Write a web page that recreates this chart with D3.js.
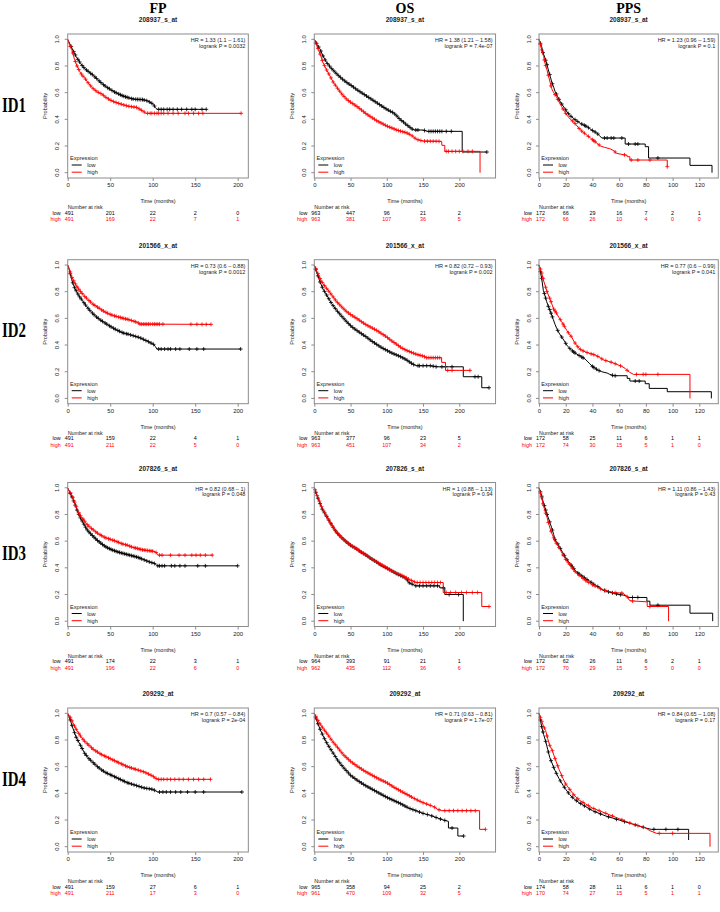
<!DOCTYPE html>
<html>
<head>
<meta charset="utf-8">
<script src="https://cdn.jsdelivr.net/npm/d3@7"></script>
<style>
body { margin: 0; background: #fff; }
svg { display: block; }
</style>
</head>
<body>
<div id="chart"></div>
<script>
// ---- labels ----
var colTitles = ["FP", "OS", "PPS"];
var rowLabels = ["ID1", "ID2", "ID3", "ID4"];
var probeIds = ["208937_s_at", "201566_x_at", "207826_s_at", "209292_at"];
var xTicksFP = [0, 50, 100, 150, 200];
var xTicksOS = [0, 50, 100, 150, 200];
var xTicksPPS = [0, 20, 40, 60, 80, 100, 120];
var yTicks = [0, 0.2, 0.4, 0.6, 0.8, 1.0];

var hrFP = ["HR = 1.33 (1.1 \u2013 1.61)", "HR = 0.73 (0.6 \u2013 0.88)", "HR = 0.82 (0.68 \u2013 1)", "HR = 0.7 (0.57 \u2013 0.84)"];
var pFP = ["logrank P = 0.0032", "logrank P = 0.0012", "logrank P = 0.048", "logrank P = 2e-04"];
var hrOS = ["HR = 1.38 (1.21 \u2013 1.58)", "HR = 0.82 (0.72 \u2013 0.93)", "HR = 1 (0.88 \u2013 1.13)", "HR = 0.71 (0.63 \u2013 0.81)"];
var pOS = ["logrank P = 7.4e-07", "logrank P = 0.002", "logrank P = 0.94", "logrank P = 1.7e-07"];
var hrPPS = ["HR = 1.23 (0.96 \u2013 1.59)", "HR = 0.77 (0.6 \u2013 0.99)", "HR = 1.11 (0.86 \u2013 1.43)", "HR = 0.84 (0.65 \u2013 1.08)"];
var pPPS = ["logrank P = 0.1", "logrank P = 0.041", "logrank P = 0.43", "logrank P = 0.17"];

// ---- numbers at risk ----
var riskFP1 = [[491, 201, 22, 2, 0], [491, 169, 22, 7, 1]];
var riskOS1 = [[963, 447, 96, 21, 2], [963, 381, 107, 36, 5]];
var riskPPS1 = [[172, 66, 29, 16, 7, 2, 1], [172, 66, 26, 10, 4, 0, 0]];
var riskFP2 = [[491, 159, 22, 4, 1], [491, 211, 22, 5, 0]];
var riskOS2 = [[963, 377, 96, 23, 5], [963, 451, 107, 34, 2]];
var riskPPS2 = [[172, 58, 25, 11, 6, 1, 1], [172, 74, 30, 15, 5, 1, 0]];
var riskFP3 = [[491, 174, 22, 3, 1], [491, 196, 22, 6, 0]];
var riskOS3 = [[964, 393, 91, 21, 1], [962, 435, 112, 36, 6]];
var riskPPS3 = [[172, 62, 26, 11, 6, 2, 1], [172, 70, 29, 15, 5, 0, 0]];
var riskFP4 = [[491, 159, 27, 6, 1], [491, 211, 17, 3, 0]];
var riskOS4 = [[965, 358, 94, 25, 2], [961, 470, 109, 32, 5]];
var riskPPS4 = [[174, 58, 28, 11, 6, 1, 0], [170, 74, 27, 15, 5, 1, 1]];

// ---- survival curves [months, probability] ----
var fp1Low = [[0,1],[3,0.96],[6,0.92],[10,0.87],[15,0.82],[20,0.78],[25,0.755],[30,0.73],[35,0.70],[40,0.67],[45,0.645],[50,0.625],[55,0.605],[60,0.59],[65,0.575],[70,0.565],[75,0.555],[80,0.55],[88,0.548],[93,0.54],[98,0.525],[101,0.51],[103,0.49],[105,0.475],[163,0.475]];
var fp1High = [[0,1],[2,0.96],[5,0.92],[8,0.85],[11,0.80],[14,0.76],[17,0.73],[20,0.71],[25,0.665],[30,0.63],[35,0.605],[40,0.59],[45,0.565],[50,0.545],[55,0.53],[60,0.52],[65,0.51],[70,0.50],[75,0.495],[81,0.49],[85,0.475],[89,0.46],[92,0.445],[204,0.445]];
var fp1LowCens = [4,7,9,12,14,17,19,22,24,27,29,32,34,37,39,42,44,47,49,52,55,57,60,62,64,66,68,70,72,75,77,80,82,84,86,88,90,93,96,99,102,107,110,113,117,120,124,129,134,140,146,150,158,163];
var fp1HighCens = [3,6,9,11,13,16,18,21,24,27,30,33,36,39,42,45,48,51,54,57,60,63,66,69,72,75,78,81,84,87,90,94,97,99,102,105,107,110,113,118,124,130,138,142,148,154,159,204];

var os1Low = [[0,1],[4,0.96],[8,0.925],[12,0.875],[17,0.825],[24,0.78],[31,0.74],[38,0.705],[45,0.675],[52,0.65],[58,0.625],[65,0.60],[72,0.575],[79,0.55],[86,0.525],[93,0.50],[100,0.475],[105,0.46],[109,0.45],[114,0.425],[118,0.40],[123,0.38],[127,0.36],[131,0.345],[134,0.33],[138,0.32],[150,0.32],[156,0.31],[204,0.31],[204,0.155],[238,0.155]];
var os1High = [[0,1],[3,0.96],[5.5,0.925],[9,0.875],[12,0.825],[17,0.77],[21.6,0.725],[26,0.68],[31,0.64],[38,0.59],[44.6,0.55],[51,0.525],[58,0.50],[65,0.47],[72,0.44],[79,0.415],[86,0.39],[93,0.37],[100,0.35],[107,0.335],[113.6,0.32],[120,0.31],[127,0.30],[134,0.28],[141,0.25],[150,0.237],[175.6,0.235],[176,0.205],[180,0.205],[180,0.16],[228.6,0.16],[228.6,0]];
var os1LowCens = [3,6,9,12,15,18,21,24,27,30,33,36,39,42,45,48,51,54,57,60,63,66,69,72,75,78,81,84,87,90,93,96,99,102,105,108,111,114,117,120,123,126,129,132,135,140,143,152,158,161,164,167,170,173,176,182,189,238];
var os1HighCens = [2,5,8,11,14,17,20,23,26,29,32,35,38,41,44,47,50,53,56,59,62,65,68,71,74,77,80,83,86,89,92,95,98,101,104,107,110,113,116,119,122,125,128,131,135,139,143,147,152,156,160,164,168,172,182,185,190,195,200,205,212,218];

var pps1Low = [[0,1],[1,0.97],[2,0.945],[3,0.9],[4.5,0.86],[6,0.81],[7,0.77],[8.5,0.72],[9.5,0.68],[11,0.64],[12,0.61],[14,0.57],[16,0.53],[18,0.50],[19.5,0.48],[21,0.455],[23,0.43],[25.5,0.41],[28,0.39],[31,0.37],[33,0.36],[36,0.345],[38,0.33],[41,0.31],[43,0.30],[45,0.28],[47,0.26],[64.5,0.26],[64.5,0.215],[79.5,0.215],[79.5,0.195],[82,0.195],[82,0.11],[113,0.11],[113,0.055],[129.5,0.055],[129.5,0]];
var pps1High = [[0,1],[1,0.96],[2,0.92],[3.5,0.87],[4.5,0.82],[6,0.77],[7,0.73],[8.5,0.67],[9.5,0.63],[11,0.60],[13,0.57],[15,0.53],[17,0.495],[19,0.46],[21,0.43],[23.5,0.40],[26,0.38],[28.5,0.35],[31,0.32],[33.5,0.30],[36,0.28],[38.5,0.26],[41,0.24],[43.5,0.22],[46,0.20],[49,0.19],[53,0.18],[56,0.165],[58,0.145],[66,0.13],[66,0.12],[68,0.12],[68,0.095],[96,0.095],[96,0.045]];
var pps1LowCens = [1,3,5,6,8,10,13,15,17,20,22,24,27,29,32,34,35,37,40,42,44,49,51,54,56,62,67,72,74,89];
var pps1HighCens = [1,2,4,5,7,9,12,14,18,20,25,27,30,32,34,37,40,41,42,45,57,64,69,74,83,96];

var fp2Low = [[0,1],[2,0.96],[4.7,0.89],[8,0.83],[10.6,0.80],[13,0.77],[16.5,0.74],[21,0.70],[26,0.66],[32,0.62],[38,0.59],[44,0.565],[50,0.54],[57,0.515],[65.5,0.49],[72,0.48],[77,0.47],[85,0.455],[90,0.44],[95,0.425],[101,0.405],[103,0.39],[105,0.37],[203.5,0.37]];
var fp2High = [[0,1],[2,0.97],[4.7,0.91],[8,0.87],[10.6,0.84],[14,0.81],[18.4,0.775],[24,0.74],[30,0.705],[36,0.68],[42,0.655],[48,0.635],[54,0.62],[60,0.61],[65.5,0.60],[72,0.59],[77,0.58],[82,0.57],[85,0.557],[168.6,0.555]];
var fp2LowCens = [3,6,8,10,12,14,16,19,21,24,26,29,31,34,36,39,41,44,46,49,51,54,56,59,61,64,66,69,71,74,77,80,83,86,89,92,95,98,101,107,110,114,118,121,127,132,143,152,160,203.5];
var fp2HighCens = [3,5,7,9,11,13,15,17,20,22,25,27,30,32,35,37,40,42,45,47,50,52,55,57,60,62,64,66,68,70,72,75,78,80,83,85,87,89,91,93,95,97,100,102,104,106,108,112,145,152,158,163,168.6];

var os2Low = [[0,1],[3,0.95],[7.8,0.875],[12,0.82],[17,0.775],[24,0.71],[30.8,0.66],[38,0.615],[44.6,0.575],[51,0.54],[58.4,0.51],[65,0.485],[72,0.46],[79,0.43],[86,0.405],[93,0.38],[100,0.36],[107,0.34],[113.6,0.325],[120,0.31],[127,0.29],[132,0.27],[136.6,0.255],[140,0.245],[160,0.245],[168.7,0.237],[205.5,0.237],[205.5,0.1625],[231,0.1625],[231,0.08],[241,0.08]];
var os2High = [[0,1],[3,0.96],[7.8,0.90],[12,0.86],[17,0.825],[24,0.775],[30.8,0.725],[38,0.685],[44.6,0.65],[51,0.625],[58.4,0.60],[65,0.575],[72,0.55],[79,0.53],[86,0.51],[93,0.485],[100,0.46],[107,0.43],[113.6,0.405],[120,0.38],[127,0.36],[134,0.345],[141,0.33],[150,0.3175],[155,0.305],[175.6,0.305],[175.6,0.27],[181,0.27],[181,0.21],[214.7,0.21]];
var os2LowCens = [2,5,8,11,14,17,20,23,26,29,32,35,38,41,44,47,50,53,56,59,62,65,68,71,74,77,80,83,86,89,92,95,98,101,104,107,110,113,116,119,122,125,128,131,134,137,143,145,150,155,160,164,168,176,181,190,221.6,226,241];
var os2HighCens = [2,5,8,11,14,17,20,23,26,29,32,35,38,41,44,47,50,53,56,59,62,65,68,71,74,77,80,83,86,89,92,95,98,101,104,107,110,113,116,119,122,125,128,131,134,137,140,143,146,149,152,155,158,161,164,167,170,173,184,190,214.7];

var pps2Low = [[0,1],[1,0.95],[2,0.90],[3.25,0.81],[4.5,0.77],[5.75,0.725],[7,0.69],[8.25,0.66],[9.5,0.625],[10.75,0.59],[12,0.555],[13.25,0.525],[15,0.49],[17,0.46],[19,0.43],[20.75,0.40],[22.5,0.38],[24.5,0.36],[27,0.34],[29.5,0.325],[32,0.31],[34.5,0.295],[36,0.28],[38,0.26],[40,0.24],[42,0.225],[44.5,0.21],[47,0.20],[51,0.19],[53,0.18],[56,0.17],[66,0.17],[66,0.15],[68,0.15],[68,0.13],[79.5,0.13],[79.5,0.11],[82.5,0.11],[82.5,0.075],[96,0.075],[96,0.05],[129,0.05],[129,0]];
var pps2High = [[0,1],[1,0.97],[2,0.94],[3.5,0.88],[4.5,0.85],[6,0.80],[7,0.775],[8.5,0.74],[9.5,0.71],[11,0.67],[13,0.64],[15,0.605],[17,0.575],[19,0.54],[20.75,0.51],[22.5,0.485],[24.5,0.46],[26,0.43],[28,0.40],[30,0.375],[32,0.36],[34.5,0.35],[37,0.34],[42,0.325],[45,0.31],[48,0.29],[51,0.28],[54.5,0.27],[57,0.26],[59.5,0.25],[62,0.24],[64.5,0.225],[66,0.21],[68,0.195],[70.75,0.18],[113,0.18],[113,0]];
var pps2LowCens = [1,2,4,5,7,8,9,10,14,17,20,23,25,26,27,30,32,33,40,41,43,45,55,57,72,75];
var pps2HighCens = [1,2,3,5,6,8,9,11,12,13,16,18,19,22,24,27,29,31,33,36,39,41,44,47,50,54,57,61,66,73,78,80,89];

var fp3Low = [[0,1],[2,0.97],[5.9,0.92],[9,0.87],[11.7,0.82],[14.5,0.78],[17.6,0.745],[20.5,0.71],[23.4,0.68],[27,0.655],[31,0.63],[35,0.605],[39,0.585],[43,0.565],[47,0.55],[52,0.535],[58.6,0.52],[64,0.51],[70,0.50],[76,0.49],[82,0.48],[88,0.465],[93.75,0.45],[98,0.44],[101.5,0.435],[104,0.425],[105.5,0.415],[200,0.415]];
var fp3High = [[0,1],[2,0.975],[5.9,0.93],[9,0.875],[11.7,0.83],[14.5,0.795],[17.6,0.77],[20.5,0.745],[23.4,0.72],[27,0.70],[31,0.68],[35,0.66],[39,0.645],[43,0.63],[47,0.62],[52,0.61],[58.6,0.595],[64,0.58],[70,0.57],[76,0.555],[82,0.545],[88,0.535],[93.75,0.53],[100,0.525],[103.5,0.52],[105,0.505],[107,0.495],[170,0.495]];
var fp3LowCens = [3,5,7,9,11,13,15,17,19,21,23,25,27,29,31,33,35,37,39,41,43,45,47,49,51,53,55,57,59,61,63,65,67,69,71,73,75,77,79,81,83,85,87,90,93,96,99,102,106,108,111,114,122,126,132,138,153,162,200];
var fp3HighCens = [3,6,8,10,13,15,18,20,23,25,28,30,33,35,38,40,43,45,48,50,53,55,58,60,63,65,68,70,73,75,78,80,82,84,86,88,90,92,94,96,98,100,104,108,111,121,131,138,146,151,156,162,170];

var os3Low = [[0,1],[3,0.95],[7,0.895],[11,0.84],[16,0.795],[23,0.73],[30,0.67],[37,0.63],[44,0.595],[51,0.565],[57.7,0.545],[64,0.52],[71.6,0.495],[78,0.47],[85.5,0.445],[92,0.42],[99.3,0.40],[106,0.38],[113,0.3575],[120,0.34],[127,0.32],[130,0.29],[136,0.275],[140,0.265],[173,0.265],[173,0.25],[180,0.25],[180,0.20],[205.5,0.20],[205.5,0]];
var os3High = [[0,1],[3,0.955],[7,0.9],[11,0.845],[16,0.795],[23,0.73],[30,0.672],[37,0.63],[44,0.597],[51,0.567],[57.7,0.545],[64,0.52],[71.6,0.497],[78,0.47],[85.5,0.447],[92,0.425],[99.3,0.402],[106,0.38],[113,0.36],[120,0.345],[127,0.325],[132,0.31],[136,0.30],[140,0.29],[177.8,0.29],[177.8,0.215],[231,0.215],[231,0.11],[241,0.11]];
var os3LowCens = [2,5,8,11,14,17,20,23,26,29,32,35,38,41,44,47,50,53,56,59,62,65,68,71,74,77,80,83,86,89,92,95,98,101,104,107,110,113,116,119,122,125,128,131,135,140,145,150,155,160,165,170,178,186,199];
var os3HighCens = [1,4,7,10,13,16,19,22,25,28,31,34,37,40,43,46,49,52,55,58,61,64,67,70,73,76,79,82,85,88,91,94,97,100,103,106,109,112,115,118,121,124,127,130,134,138,142,146,150,154,158,162,166,170,174,182,188,195,203,210,218,225,241];

var pps3Low = [[0,1],[1,0.97],[2,0.937],[3,0.9],[4.5,0.85],[6,0.80],[7,0.774],[8.5,0.73],[9.5,0.70],[11,0.65],[12,0.61],[14,0.58],[15.75,0.55],[17.5,0.52],[19.5,0.485],[21,0.46],[23,0.435],[25.5,0.40],[28,0.37],[30.5,0.35],[33,0.334],[35.5,0.315],[38,0.30],[40.5,0.28],[43,0.266],[45.5,0.25],[48,0.234],[52,0.22],[56,0.21],[60,0.20],[63,0.196],[65,0.19],[67,0.178],[80.75,0.178],[80.75,0.15],[83,0.15],[83,0.12],[113,0.12],[113,0.06],[130,0.06],[130,0]];
var pps3High = [[0,1],[1,0.96],[2,0.925],[3,0.88],[4.5,0.825],[6,0.78],[7,0.74],[8.5,0.69],[9.5,0.66],[11,0.625],[12,0.60],[14,0.57],[15.75,0.54],[17.5,0.505],[19.5,0.47],[21,0.45],[23,0.427],[25.5,0.39],[28,0.36],[30.5,0.34],[33,0.32],[35.5,0.30],[38,0.285],[40.5,0.27],[43,0.26],[45.5,0.245],[48,0.234],[52,0.224],[56,0.214],[60,0.212],[63,0.21],[66,0.183],[68,0.153],[81,0.145],[81,0.11],[97,0.11],[97,0]];
var pps3LowCens = [1,2,4,5,6,8,10,12,14,16,19,21,24,25,26,29,30,32,34,36,39,41,44,49,52,55,58,61,70,74,89];
var pps3HighCens = [1,2,3,5,7,9,11,13,15,18,20,22,23,25,27,30,33,35,37,40,42,46,50,57,62,66,70,83];

var fp4Low = [[0,1],[3,0.95],[6,0.89],[10,0.82],[15,0.76],[20,0.70],[25,0.66],[30,0.63],[35,0.60],[40,0.575],[45,0.555],[50,0.54],[55,0.525],[60,0.51],[65,0.495],[70,0.48],[75,0.47],[80,0.46],[85,0.45],[90,0.44],[95,0.435],[100,0.43],[103,0.42],[106,0.41],[205,0.41]];
var fp4High = [[0,1],[3,0.97],[6,0.93],[10,0.88],[15,0.83],[20,0.79],[25,0.76],[30,0.73],[35,0.71],[40,0.69],[45,0.675],[50,0.66],[55,0.645],[60,0.63],[65,0.615],[70,0.60],[75,0.59],[80,0.58],[85,0.57],[90,0.56],[95,0.545],[100,0.53],[103,0.515],[106,0.505],[168,0.505]];
var fp4LowCens = [3,5,8,10,12,15,17,20,22,25,27,30,32,35,37,40,42,45,47,50,52,55,57,60,62,65,67,70,72,75,78,81,84,87,90,93,96,99,102,108,112,116,121,127,133,141,150,160,205];
var fp4HighCens = [3,5,8,10,13,15,18,20,23,25,28,30,33,35,38,40,43,45,48,50,53,55,58,60,63,65,68,70,73,75,78,80,83,86,89,92,95,98,101,104,107,110,113,117,121,126,131,136,142,148,154,160,168];

var os4Low = [[0,1],[3,0.95],[8,0.88],[13,0.82],[18,0.77],[25,0.71],[32,0.65],[40,0.595],[50,0.535],[60,0.495],[70,0.46],[80,0.43],[90,0.40],[100,0.37],[110,0.345],[120,0.32],[130,0.29],[140,0.27],[150,0.25],[160,0.235],[170,0.215],[178,0.20],[185,0.19],[185,0.14],[198,0.14],[198,0.08],[206,0.08]];
var os4High = [[0,1],[3,0.965],[8,0.92],[13,0.88],[18,0.845],[25,0.79],[32,0.745],[40,0.69],[50,0.64],[60,0.60],[70,0.565],[80,0.535],[90,0.505],[100,0.48],[110,0.445],[120,0.415],[130,0.385],[140,0.355],[150,0.33],[160,0.31],[165,0.30],[170,0.28],[176,0.27],[228,0.27],[228,0.13],[236,0.13]];
var os4LowCens = [2,5,8,11,14,17,20,23,26,29,32,35,38,41,44,47,50,53,56,59,62,65,68,71,74,77,80,83,86,89,92,95,98,101,104,107,110,113,116,119,122,125,128,132,136,140,145,150,156,162,168,174,180,190,206];
var os4HighCens = [2,5,8,11,14,17,20,23,26,29,32,35,38,41,44,47,50,53,56,59,62,65,68,71,74,77,80,83,86,89,92,95,98,101,104,107,110,113,116,119,122,125,128,131,134,138,142,146,150,155,160,166,172,180,186,192,198,204,210,216,222,236];

var pps4Low = [[0,1],[1,0.95],[2,0.9],[3.5,0.84],[5,0.79],[6.5,0.73],[8,0.67],[10,0.62],[12,0.57],[15,0.51],[18,0.46],[20,0.43],[23,0.39],[26,0.36],[30,0.33],[35,0.30],[40,0.27],[45,0.25],[50,0.23],[55,0.215],[60,0.20],[65,0.185],[70,0.17],[75,0.155],[80,0.14],[84,0.13],[112,0.13],[112,0.05]];
var pps4High = [[0,1],[1,0.97],[2,0.94],[3.5,0.90],[5,0.87],[6.5,0.81],[8,0.76],[10,0.72],[12,0.66],[15,0.58],[18,0.51],[20,0.47],[23,0.43],[26,0.39],[30,0.35],[35,0.32],[40,0.29],[45,0.27],[50,0.25],[55,0.23],[60,0.21],[65,0.19],[70,0.17],[75,0.155],[80,0.14],[83,0.12],[88,0.10],[128,0.10],[128,0]];
var pps4LowCens = [1,2,3,5,7,9,11,13,16,19,22,25,28,31,34,38,42,46,52,58,64,72,78,86,95,104];
var pps4HighCens = [1,2,4,6,8,10,12,14,17,20,23,26,29,33,37,41,45,50,55,62,68,74,90,100];

// ---- layout ----
var W = 720, H = 912;
var rowOff = [0, 225.7, 448.5, 674];
var cols = [
  {left: 67.7,  maxT: 212.5, ppm: 0.85,  ticks: xTicksFP},
  {left: 314.3, maxT: 250,   ppm: 0.725, ticks: xTicksOS},
  {left: 539,   maxT: 134.2, ppm: 1.336, ticks: xTicksPPS}
];
var cLow = "#000000", cHigh = "#ff0000", boxCol = "#8c8c8c", txt = "#222";
var sans = "'Liberation Sans', Arial, sans-serif";
var serif = "'Liberation Serif', 'Times New Roman', serif";

var panels = [
  [
    {low: fp1Low, high: fp1High, lowC: fp1LowCens, highC: fp1HighCens, risk: riskFP1, hr: hrFP[0], p: pFP[0]},
    {low: os1Low, high: os1High, lowC: os1LowCens, highC: os1HighCens, risk: riskOS1, hr: hrOS[0], p: pOS[0]},
    {low: pps1Low, high: pps1High, lowC: pps1LowCens, highC: pps1HighCens, risk: riskPPS1, hr: hrPPS[0], p: pPPS[0]}
  ],
  [
    {low: fp2Low, high: fp2High, lowC: fp2LowCens, highC: fp2HighCens, risk: riskFP2, hr: hrFP[1], p: pFP[1]},
    {low: os2Low, high: os2High, lowC: os2LowCens, highC: os2HighCens, risk: riskOS2, hr: hrOS[1], p: pOS[1]},
    {low: pps2Low, high: pps2High, lowC: pps2LowCens, highC: pps2HighCens, risk: riskPPS2, hr: hrPPS[1], p: pPPS[1]}
  ],
  [
    {low: fp3Low, high: fp3High, lowC: fp3LowCens, highC: fp3HighCens, risk: riskFP3, hr: hrFP[2], p: pFP[2]},
    {low: os3Low, high: os3High, lowC: os3LowCens, highC: os3HighCens, risk: riskOS3, hr: hrOS[2], p: pOS[2]},
    {low: pps3Low, high: pps3High, lowC: pps3LowCens, highC: pps3HighCens, risk: riskPPS3, hr: hrPPS[2], p: pPPS[2]}
  ],
  [
    {low: fp4Low, high: fp4High, lowC: fp4LowCens, highC: fp4HighCens, risk: riskFP4, hr: hrFP[3], p: pFP[3]},
    {low: os4Low, high: os4High, lowC: os4LowCens, highC: os4HighCens, risk: riskOS4, hr: hrOS[3], p: pOS[3]},
    {low: pps4Low, high: pps4High, lowC: pps4LowCens, highC: pps4HighCens, risk: riskPPS4, hr: hrPPS[3], p: pPPS[3]}
  ]
];

var svg = d3.select("#chart").append("svg")
  .attr("width", W).attr("height", H);

// survival value at time t along the drawn curve
function survAt(pts, t) {
  var i = d3.bisector(function(d) { return d[0]; }).right(pts, t) - 1;
  if (i < 0) return 1;
  var a = pts[i], b = pts[i + 1];
  if (!b || b[0] === a[0]) return a[1];
  return a[1] + (b[1] - a[1]) * (t - a[0]) / (b[0] - a[0]);
}

// column headers
colTitles.forEach(function(t, c) {
  var col = cols[c];
  svg.append("text")
    .attr("x", col.left + col.maxT * col.ppm / 2).attr("y", 13)
    .attr("text-anchor", "middle")
    .style("font-family", serif).style("font-weight", "bold").style("font-size", "14px")
    .text(t);
});

// row labels
rowLabels.forEach(function(t, r) {
  svg.append("text")
    .attr("x", 2).attr("y", 111.5 + rowOff[r])
    .attr("textLength", 24).attr("lengthAdjust", "spacingAndGlyphs")
    .style("font-family", serif).style("font-weight", "bold").style("font-size", "20px")
    .text(t);
});

function drawPanel(p, r, c) {
  var col = cols[c], off = rowOff[r];
  var right = col.left + col.maxT * col.ppm;
  var x = d3.scaleLinear().domain([0, col.maxT]).range([col.left, right]);
  var y = d3.scaleLinear().domain([0, 1]).range([172.7 + off, 39.3 + off]);
  var top = 34 + off, bottom = 178 + off;
  var g = svg.append("g");
  var cx = (col.left + right) / 2;

  g.append("text")
    .attr("x", cx).attr("y", 22.3 + off).attr("text-anchor", "middle")
    .style("font-family", sans).style("font-weight", "bold").style("font-size", "6.5px")
    .attr("fill", txt).text(probeIds[r]);

  // x axis
  var xa = g.append("g").attr("transform", "translate(0," + bottom + ")")
    .call(d3.axisBottom(x).tickValues(col.ticks).tickSize(3).tickPadding(2).tickFormat(d3.format("d")));
  xa.select(".domain").remove();
  xa.selectAll("line").attr("stroke", boxCol);
  xa.selectAll("text").style("font-family", sans).style("font-size", "6px").attr("fill", txt);

  // y axis
  var ya = g.append("g").attr("transform", "translate(" + col.left + ",0)")
    .call(d3.axisLeft(y).tickValues(yTicks).tickSize(3).tickFormat(d3.format(".1f")));
  ya.select(".domain").remove();
  ya.selectAll(".tick").attr("transform", null);
  ya.selectAll(".tick line").attr("stroke", boxCol)
    .attr("y1", function(d) { return y(d); }).attr("y2", function(d) { return y(d); });
  ya.selectAll(".tick text")
    .attr("x", null).attr("y", 0).attr("dy", null).attr("text-anchor", "middle")
    .attr("transform", function(d) { return "translate(-8.5," + y(d) + ") rotate(-90)"; })
    .style("font-family", sans).style("font-size", "6px").attr("fill", txt);

  g.append("text")
    .attr("transform", "translate(" + (col.left - 20.5) + "," + ((top + bottom) / 2) + ") rotate(-90)")
    .attr("text-anchor", "middle")
    .style("font-family", sans).style("font-size", "5.6px").attr("fill", txt)
    .text("Probability");

  g.append("text")
    .attr("x", cx).attr("y", 203 + off).attr("text-anchor", "middle")
    .style("font-family", sans).style("font-size", "5.5px").attr("fill", txt)
    .text("Time (months)");

  // curves
  var line = d3.line().x(function(d) { return x(d[0]); }).y(function(d) { return y(d[1]); });
  [[p.low, p.lowC, cLow], [p.high, p.highC, cHigh]].forEach(function(s) {
    g.append("path").attr("d", line(s[0]))
      .attr("fill", "none").attr("stroke", s[2]).attr("stroke-width", 1);
    var marks = s[1].map(function(t) {
      var px = x(t), py = y(survAt(s[0], t));
      return "M" + (px - 2) + "," + py + "h4M" + px + "," + (py - 2) + "v4";
    }).join("");
    g.append("path").attr("d", marks)
      .attr("fill", "none").attr("stroke", s[2]).attr("stroke-width", 0.8);
  });

  // plot box
  g.append("rect")
    .attr("x", col.left).attr("y", top)
    .attr("width", right - col.left).attr("height", bottom - top)
    .attr("fill", "none").attr("stroke", boxCol).attr("stroke-width", 1);

  // HR text
  [p.hr, p.p].forEach(function(t, i) {
    g.append("text")
      .attr("x", right - 3).attr("y", 42 + off + i * 5.8).attr("text-anchor", "end")
      .style("font-family", sans).style("font-size", "5.5px").attr("fill", txt)
      .text(t);
  });

  // legend
  g.append("text").attr("x", col.left + 2.3).attr("y", bottom - 18)
    .style("font-family", sans).style("font-size", "5.6px").attr("fill", txt).text("Expression");
  [["low", cLow], ["high", cHigh]].forEach(function(l, i) {
    var ly = bottom - 13 + i * 7.2;
    g.append("line").attr("x1", col.left + 4).attr("x2", col.left + 14)
      .attr("y1", ly).attr("y2", ly).attr("stroke", l[1]).attr("stroke-width", 1);
    g.append("text").attr("x", col.left + 19.5).attr("y", ly + 2)
      .style("font-family", sans).style("font-size", "5.6px").attr("fill", txt).text(l[0]);
  });

  // number at risk
  g.append("text").attr("x", col.left).attr("y", 209.3 + off)
    .style("font-family", sans).style("font-size", "5.4px").attr("fill", txt).text("Number at risk");
  [["low", cLow, 214.5], ["high", cHigh, 221]].forEach(function(rw, i) {
    g.append("text").attr("x", col.left - 7).attr("y", rw[2] + off).attr("text-anchor", "end")
      .style("font-family", sans).style("font-size", "5.4px").attr("fill", rw[1]).text(rw[0]);
    g.selectAll(null).data(p.risk[i]).enter().append("text")
      .attr("x", function(d, k) { return x(col.ticks[k]) + (k === 0 ? 1.5 : 0); })
      .attr("y", rw[2] + off).attr("text-anchor", "middle")
      .style("font-family", sans).style("font-size", "5.4px").attr("fill", rw[1])
      .text(function(d) { return d; });
  });
}

panels.forEach(function(row, r) {
  row.forEach(function(p, c) { drawPanel(p, r, c); });
});
</script>
</body>
</html>
